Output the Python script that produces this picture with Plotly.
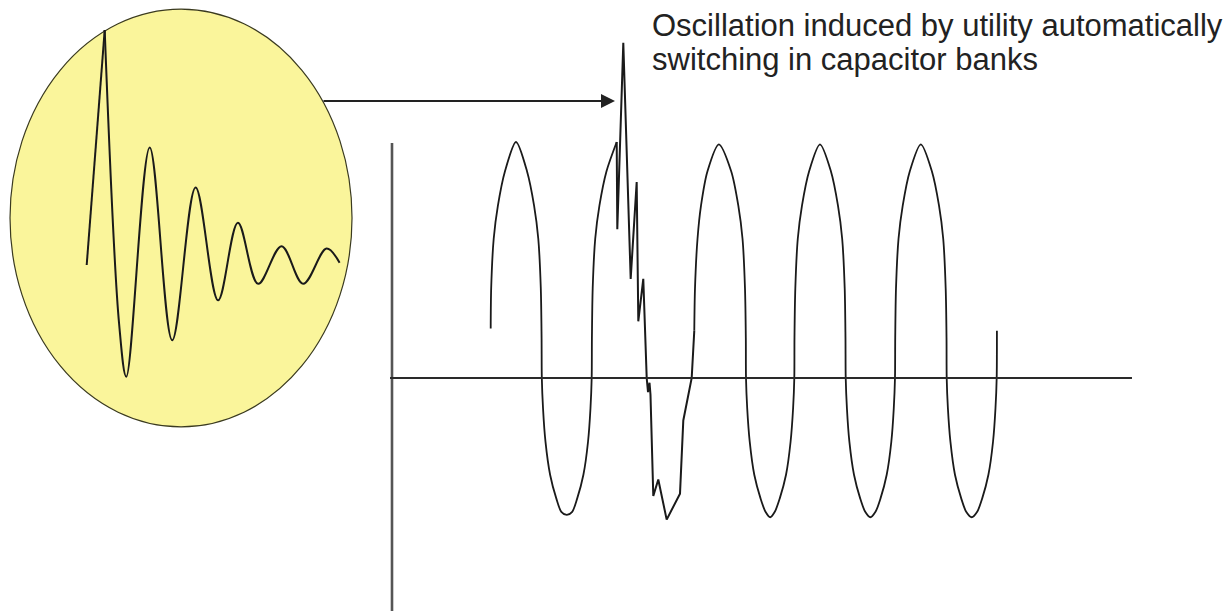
import plotly.graph_objects as go

# ---------------- main waveform (time in ms, voltage in per-unit of positive peak) ----------------
# smooth part before the switching event
pre_t = [16.45, 16.53, 16.95, 17.65, 18.83, 20.67, 22.50, 23.68, 24.38, 24.80, 24.93, 24.97,
         25.17, 25.58, 26.35, 27.38, 28.22, 29.13, 30.03, 30.87, 31.90, 32.67, 33.08, 33.28,
         33.32, 33.45, 33.87, 34.57, 35.75, 37.45]
pre_v = [0.21, 0.38, 0.59, 0.73, 0.876, 1.00, 0.876, 0.73, 0.59, 0.38, 0.17, 0.00,
         -0.128, -0.27, -0.41, -0.51, -0.567, -0.58, -0.567, -0.51, -0.41, -0.27, -0.128, 0.00,
         0.17, 0.38, 0.59, 0.73, 0.876, 1.00]

# capacitor-switching transient (sharp, piecewise)
tr_t = [37.45, 37.55, 38.55, 39.78, 40.78, 41.05, 41.88, 42.45, 42.67, 42.92, 43.08,
        43.55, 44.38, 44.78, 45.78, 48.00, 48.55, 49.95, 50.38]
tr_v = [1.00, 0.63, 1.42, 0.42, 0.83, 0.24, 0.42, 0.00, -0.06, -0.02, -0.07,
        -0.50, -0.43, -0.48, -0.60, -0.49, -0.18, 0.00, 0.20]

# smooth part after the event
post_t = [50.38, 50.50, 50.92, 51.50, 52.58, 54.48, 56.53, 57.72, 58.42, 58.83, 58.97, 59.00,
          59.20, 59.62, 60.38, 61.42, 62.25, 63.03, 63.80, 64.63, 65.67, 66.43, 66.85, 67.05,
          67.08, 67.22, 67.63, 68.33, 69.52, 71.33, 73.15, 74.33, 75.03, 75.45, 75.58, 75.62,
          75.82, 76.23, 77.00, 78.03, 78.87, 79.73, 80.58, 81.42, 82.45, 83.22, 83.63, 83.83,
          83.87, 84.00, 84.42, 85.12, 86.30, 88.14, 89.98, 91.17, 91.87, 92.28, 92.42, 92.45,
          92.65, 93.07, 93.83, 94.87, 95.70, 96.62, 97.53, 98.37, 99.40, 100.17, 100.58, 100.78,
          100.82]
post_v = [0.20, 0.38, 0.59, 0.73, 0.876, 0.99, 0.876, 0.73, 0.59, 0.38, 0.17, 0.00,
          -0.128, -0.27, -0.41, -0.51, -0.567, -0.59, -0.567, -0.51, -0.41, -0.27, -0.128, 0.00,
          0.17, 0.38, 0.59, 0.73, 0.876, 0.99, 0.876, 0.73, 0.59, 0.38, 0.17, 0.00,
          -0.128, -0.27, -0.41, -0.51, -0.567, -0.59, -0.567, -0.51, -0.41, -0.27, -0.128, 0.00,
          0.17, 0.38, 0.59, 0.73, 0.876, 0.99, 0.876, 0.73, 0.59, 0.38, 0.17, 0.00,
          -0.128, -0.27, -0.41, -0.51, -0.567, -0.59, -0.567, -0.51, -0.41, -0.27, -0.128, 0.00,
          0.20]

# ---------------- inset (magnified ringing): time in ringing cycles, amplitude per-unit of spike ----------------
spike_t = [0.00, 0.40]
spike_v = [0.00, 1.00]
ring_t = [0.40, 0.72, 0.88, 1.40, 1.90, 2.42, 2.92, 3.36, 3.81, 4.33, 4.81, 5.33, 5.62]
ring_v = [1.00, -0.25, -0.475, 0.50, -0.32, 0.33, -0.15, 0.18, -0.08, 0.08, -0.08, 0.07, 0.01]

caption_lines = ["Oscillation induced by utility automatically", "switching in capacitor banks"]

W, H = 1230, 611
LINE = "#1a1a1a"

fig = go.Figure()
fig.add_trace(go.Scatter(x=pre_t, y=pre_v, mode="lines",
                         line=dict(color=LINE, width=1.8, shape="spline", smoothing=0.8)))
fig.add_trace(go.Scatter(x=tr_t, y=tr_v, mode="lines",
                         line=dict(color=LINE, width=2.0, shape="linear")))
fig.add_trace(go.Scatter(x=post_t, y=post_v, mode="lines",
                         line=dict(color=LINE, width=1.8, shape="spline", smoothing=0.8)))
fig.add_trace(go.Scatter(x=spike_t, y=spike_v, mode="lines", xaxis="x2", yaxis="y2",
                         line=dict(color=LINE, width=2.0, shape="linear")))
fig.add_trace(go.Scatter(x=ring_t, y=ring_v, mode="lines", xaxis="x2", yaxis="y2",
                         line=dict(color=LINE, width=2.0, shape="spline", smoothing=1.0)))

# axis ranges chosen so the drawing fills the canvas like the reference
fig.update_layout(
    width=W, height=H, margin=dict(l=0, r=0, t=0, b=0),
    paper_bgcolor="white", plot_bgcolor="white", showlegend=False,
    xaxis=dict(range=[-65.333, 139.667], visible=False, domain=[0, 1]),
    yaxis=dict(range=[-0.9873, 1.6017], visible=False, domain=[0, 1]),
    xaxis2=dict(range=[-1.9267, 25.407], visible=False, overlaying="x", domain=[0, 1]),
    yaxis2=dict(range=[-1.4723, 1.1277], visible=False, overlaying="y", domain=[0, 1]),
)

# yellow magnifier ellipse
fig.add_shape(type="circle", xref="x2", yref="y2", x0=-1.704, x1=5.896, y0=-0.689, y1=1.089,
              fillcolor="#FAF59B", line=dict(color="#3a3a20", width=1.2), layer="below")
# main axes lines
fig.add_shape(type="line", xref="x", yref="y", x0=0, x1=0, y0=0.996, y1=-0.99,
              line=dict(color="#555555", width=2.6))
fig.add_shape(type="line", xref="x", yref="y", x0=-0.33, x1=123.33, y0=0, y1=0,
              line=dict(color="#2a2a2a", width=2))

# arrow from magnifier to the event
fig.add_annotation(x=37.17, y=1.174, xref="x", yref="y", ax=-11.67, ay=1.174, axref="x", ayref="y",
                   text="", showarrow=True, arrowhead=2, arrowsize=1.4, arrowwidth=2,
                   arrowcolor="#222222")

for i, line_text in enumerate(caption_lines):
    fig.add_annotation(x=651 / W, y=1 - (7 + 34.5 * i) / H, xref="paper", yref="paper",
                       xanchor="left", yanchor="top", align="left", showarrow=False, text=line_text,
                       borderpad=0,
                       font=dict(family="Arial, Liberation Sans, sans-serif", size=31, color="#222222"))

fig.write_html("out.html", config={"displayModeBar": False},
               post_script="document.body.style.margin='0';")
